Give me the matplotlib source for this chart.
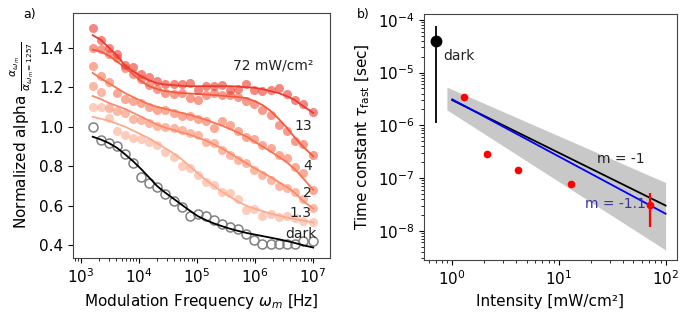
import matplotlib
matplotlib.use("Agg")
import matplotlib.pyplot as plt
import numpy as np

# ---------------------------------------------------------------------------
# Panel a data: normalized alpha vs modulation frequency (offset by 0.1 each)
# ---------------------------------------------------------------------------
FREQ = [1585, 2184, 3010, 4150, 5720, 7880, 10860, 14970, 20630, 28440,
        39190, 54020, 74450, 102600, 141400, 194900, 268700, 370300, 510400,
        703500, 969600, 1336000, 1842000, 2538000, 3499000, 4822000, 6646000,
        10000000]

INTENSITY_LABELS = ["1.3", "2", "4", "13", "72 mW/cm²"]

ALPHA_DARK = [1.00, 0.935, 0.918, 0.90, 0.861, 0.814, 0.746, 0.716, 0.692, 0.658,
              0.625, 0.591, 0.547, 0.560, 0.547, 0.527, 0.505, 0.493, 0.480, 0.456,
              0.425, 0.405, 0.405, 0.405, 0.405, 0.405, 0.422, 0.422]
FIT_DARK = [0.949, 0.935, 0.917, 0.893, 0.86, 0.825, 0.785, 0.742, 0.698, 0.665,
            0.635, 0.605, 0.575, 0.547, 0.527, 0.51, 0.496, 0.483, 0.472, 0.462,
            0.454, 0.446, 0.438, 0.43, 0.421, 0.411, 0.40, 0.388]

ALPHA_1p3 = [1.10, 1.10, 1.044, 0.976, 0.96, 0.945, 0.94, 0.92, 0.907, 0.873,
             0.848, 0.80, 0.79, 0.755, 0.721, 0.704, 0.67, 0.662, 0.636, 0.577,
             0.585, 0.55, 0.56, 0.545, 0.55, 0.54, 0.52, 0.515]
FIT_1p3 = [1.05, 1.04, 1.03, 1.015, 1.0, 0.98, 0.96, 0.94, 0.915, 0.89,
           0.865, 0.835, 0.80, 0.765, 0.73, 0.70, 0.67, 0.645, 0.62, 0.60,
           0.585, 0.572, 0.56, 0.55, 0.54, 0.532, 0.525, 0.515]

ALPHA_2 = [1.204, 1.175, 1.097, 1.077, 1.069, 1.039, 1.032, 1.018, 1.005, 1.00,
           0.993, 0.985, 0.966, 0.957, 0.924, 0.915, 0.88, 0.856, 0.83, 0.814,
           0.78, 0.755, 0.73, 0.70, 0.687, 0.67, 0.636, 0.586]
FIT_2 = [1.155, 1.14, 1.12, 1.105, 1.09, 1.07, 1.05, 1.03, 1.01, 0.995,
         0.983, 0.97, 0.96, 0.945, 0.93, 0.91, 0.89, 0.865, 0.84, 0.815,
         0.79, 0.768, 0.745, 0.72, 0.695, 0.665, 0.625, 0.585]

ALPHA_4 = [1.305, 1.258, 1.224, 1.17, 1.14, 1.128, 1.12, 1.10, 1.086, 1.086,
           1.069, 1.052, 1.052, 1.04, 1.027, 0.993, 1.027, 1.01, 0.976, 0.949,
           0.94, 0.907, 0.89, 0.856, 0.84, 0.797, 0.763, 0.679]
FIT_4 = [1.272, 1.245, 1.22, 1.195, 1.17, 1.15, 1.13, 1.113, 1.10, 1.09,
         1.08, 1.07, 1.06, 1.048, 1.035, 1.02, 1.005, 0.988, 0.97, 0.95,
         0.925, 0.90, 0.875, 0.848, 0.82, 0.785, 0.74, 0.68]

ALPHA_13 = [1.40, 1.393, 1.37, 1.35, 1.297, 1.268, 1.24, 1.21, 1.19, 1.17,
            1.167, 1.17, 1.145, 1.137, 1.162, 1.17, 1.162, 1.162, 1.15, 1.128,
            1.116, 1.086, 1.06, 1.01, 0.98, 0.93, 0.91, 0.855]
FIT_13 = [1.39, 1.38, 1.36, 1.33, 1.30, 1.265, 1.23, 1.205, 1.19, 1.18,
          1.175, 1.17, 1.168, 1.165, 1.163, 1.16, 1.157, 1.153, 1.15, 1.145,
          1.13, 1.11, 1.08, 1.04, 0.995, 0.945, 0.90, 0.85]

ALPHA_72 = [1.50, 1.437, 1.40, 1.37, 1.314, 1.30, 1.268, 1.25, 1.23, 1.218,
            1.218, 1.218, 1.221, 1.187, 1.204, 1.204, 1.212, 1.184, 1.19, 1.218,
            1.184, 1.18, 1.184, 1.196, 1.165, 1.133, 1.116, 1.072]
FIT_72 = [1.463, 1.44, 1.40, 1.36, 1.31, 1.28, 1.255, 1.235, 1.22, 1.213,
          1.21, 1.207, 1.205, 1.205, 1.205, 1.205, 1.205, 1.205, 1.203, 1.20,
          1.197, 1.19, 1.18, 1.17, 1.155, 1.135, 1.105, 1.07]

# label y positions next to the curve ends
LABEL_Y = [0.561, 0.665, 0.802, 1.003, 1.312]

# ---------------------------------------------------------------------------
# Panel b data: fast time constant vs intensity
# ---------------------------------------------------------------------------
I_DARK = [0.7]
TAU_DARK = [3.9e-5]
TAU_DARK_LO = [1.1e-6]
TAU_DARK_HI = [7.7e-5]

I_LIGHT = [1.3, 2.1, 4.1, 13.0, 72.0]
TAU_LIGHT = [3.4e-6, 2.9e-7, 1.4e-7, 7.7e-8, 3.1e-8]
TAU_LIGHT_LO = [3.3e-6, 2.85e-7, 1.37e-7, 6.9e-8, 1.2e-8]
TAU_LIGHT_HI = [3.5e-6, 2.95e-7, 1.43e-7, 8.6e-8, 5.1e-8]

FIT_I = [1.0, 100.0]
FIT_M1 = [3.0e-6, 3.0e-8]        # slope -1
FIT_M11 = [3.1e-6, 2.1e-8]       # slope -1.1
BAND_I = [0.89, 100.0]
BAND_HI = [5.3e-6, 8.2e-8]
BAND_LO = [1.96e-6, 4.3e-9]


def panel_a(ax):
    cmap = plt.cm.Reds
    series = [(ALPHA_1p3, FIT_1p3), (ALPHA_2, FIT_2), (ALPHA_4, FIT_4),
              (ALPHA_13, FIT_13), (ALPHA_72, FIT_72)]
    shades = [0.3, 0.4, 0.48, 0.55, 0.63]
    for (pts, fit), s in zip(series, shades):
        c = cmap(s)
        ax.plot(FREQ, pts, "o", ms=6.5, color=c, alpha=0.6, mec="none")
        ax.plot(FREQ, fit, "-", lw=1.3, color=c)
    ax.plot(FREQ, ALPHA_DARK, "o", ms=6.5, mfc="none", mec="gray", mew=1.1)
    ax.plot(FREQ, FIT_DARK, "-", lw=1.3, color="black")

    for lab, y in zip(INTENSITY_LABELS, LABEL_Y):
        ha = "left" if "mW" in lab else "right"
        x = 4.2e5 if "mW" in lab else 9.5e6
        ax.text(x, y, lab, ha=ha, va="center", fontsize=10, color="#222222")
    ax.text(1.15e7, 0.459, "dark", ha="right", va="center", fontsize=10, color="#222222")

    ax.set_xscale("log")
    ax.set_xlim(10 ** 2.86, 10 ** 7.29)
    ax.set_ylim(0.335, 1.575)
    ax.set_yticks([0.4, 0.6, 0.8, 1.0, 1.2, 1.4])
    ax.set_xlabel(r"Modulation Frequency $\omega_m$ [Hz]", fontsize=11)
    ax.set_ylabel(r"Normalized alpha $\frac{\alpha_{\omega_m}}{\alpha_{\omega_m=1257}}$",
                  fontsize=11, labelpad=2)
    ax.tick_params(labelsize=11)


def panel_b(ax):
    ax.fill_between(BAND_I, BAND_LO, BAND_HI, color="#c8c8c8", lw=0, zorder=1)
    ax.plot(FIT_I, FIT_M1, "-", color="black", lw=1.3, zorder=2)
    ax.plot(FIT_I, FIT_M11, "-", color="blue", lw=1.3, zorder=2)

    lo = np.array(TAU_LIGHT) - np.array(TAU_LIGHT_LO)
    hi = np.array(TAU_LIGHT_HI) - np.array(TAU_LIGHT)
    ax.errorbar(I_LIGHT, TAU_LIGHT, yerr=[lo, hi], fmt="o", color="red", ms=4.5,
                elinewidth=1.6, capsize=0, zorder=3)
    lo = np.array(TAU_DARK) - np.array(TAU_DARK_LO)
    hi = np.array(TAU_DARK_HI) - np.array(TAU_DARK)
    ax.errorbar(I_DARK, TAU_DARK, yerr=[lo, hi], fmt="o", color="black", ms=7.5,
                elinewidth=1.3, capsize=0, zorder=3)

    ax.text(0.82, 2.07e-5, "dark", ha="left", va="center", fontsize=10, color="#222222")
    ax.text(22.6, 2.3e-7, "m = -1", ha="left", va="center", fontsize=10, color="#222222")
    ax.text(17.5, 3.16e-8, "m = -1.1", ha="left", va="center", fontsize=10, color="#33339a")

    ax.set_xscale("log")
    ax.set_yscale("log")
    ax.set_xlim(0.543, 10 ** 2.106)
    ax.set_ylim(10 ** -8.556, 10 ** -3.886)
    ax.set_xlabel("Intensity [mW/cm²]", fontsize=11)
    ax.set_ylabel(r"Time constant $\tau_{\rm fast}$ [sec]", fontsize=11)
    ax.tick_params(labelsize=11)


def main():
    fig = plt.figure(figsize=(6.91, 3.18), dpi=100)
    ax_a = fig.add_axes([0.1056, 0.1887, 0.372, 0.770])
    ax_b = fig.add_axes([0.6136, 0.1824, 0.366, 0.774])
    panel_a(ax_a)
    panel_b(ax_b)
    for ax in (ax_a, ax_b):
        for sp in ax.spines.values():
            sp.set_color("#444444")
    fig.text(0.033, 0.955, "a)", fontsize=9, ha="left", va="center")
    fig.text(0.517, 0.955, "b)", fontsize=9, ha="left", va="center")
    fig.savefig("out.png", dpi=100)
    plt.close(fig)


if __name__ == "__main__":
    main()
